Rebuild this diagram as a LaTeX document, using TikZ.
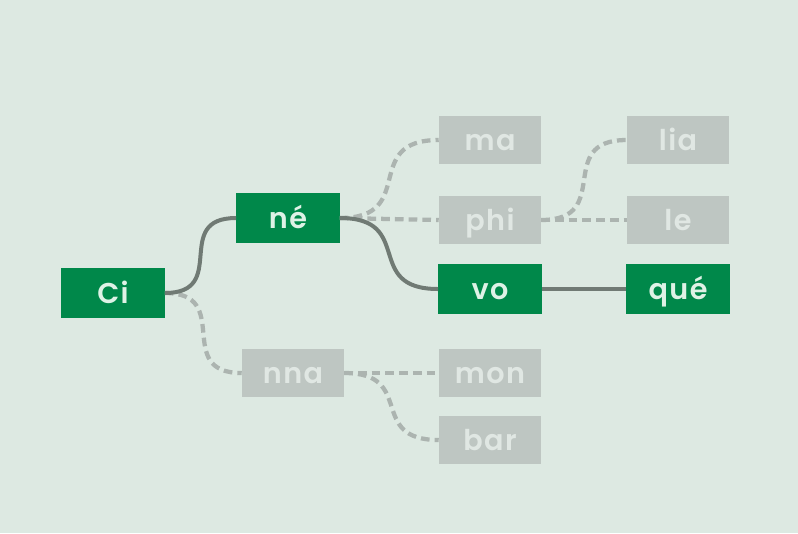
\documentclass[tikz,border=0pt]{standalone}
\usepackage{fontspec}
\setmainfont{Poppins}
\newfontfamily\boxfont{Poppins SemiBold}[LetterSpace=5]
\definecolor{paper}{RGB}{221,233,226}
\definecolor{leafgreen}{RGB}{0,136,74}
\definecolor{mint}{RGB}{222,242,230}
\definecolor{boxgrey}{RGB}{190,198,194}
\definecolor{fadetext}{RGB}{224,231,227}
\definecolor{wire}{RGB}{112,122,116}
\definecolor{dashgrey}{RGB}{172,180,176}

\begin{document}
\begin{tikzpicture}[x=0.75pt,y=-0.75pt,
    hot/.style={fill=leafgreen,text=mint,minimum width=77.5pt,minimum height=37.5pt,
      inner sep=0pt,text height=15pt,text depth=0pt,font=\fontsize{21.5}{20}\boxfont},
    cold/.style={fill=boxgrey,text=fadetext,minimum width=76.5pt,minimum height=36pt,
      inner sep=0pt,text height=15pt,text depth=0pt,font=\fontsize{21.5}{20}\boxfont},
    live/.style={draw=wire,line width=3pt},
    dead/.style={draw=dashgrey,line width=3.2pt,dash pattern=on 6.5pt off 3.8pt},
    swoop/.style={out=0,in=180,looseness=1.6}]
    \fill [paper] (0,0) rectangle (798,533);
    \useasboundingbox (0,0) rectangle (798,533);
    % dashed branches first, boxes on top
    \path coordinate (c1) at (113,293);
    \path coordinate (c2) at (288,218);
    \path coordinate (c3) at (293,373);
    \node [hot] (ci) at (c1) {Ci};
    \node [hot] (ne) at (c2) {né};
    \node [cold] (nna) at (c3) {nna};
    \node [cold] (ma) at (490,140) {ma};
    \node [cold] (phi) at (490,220) {phi};
    \node [hot] (vo) at (490,289) {vo};
    \node [cold] (mon) at (490,373) {mon};
    \node [cold] (bar) at (490,440) {bar};
    \node [cold] (lia) at (678,140) {lia};
    \node [cold] (le) at (678,220) {le};
    \node [hot] (que) at (678,289) {qué};
    \draw [dead] (ci.east) to[swoop] (nna.west);
    \draw [dead] (ne.east) to[swoop] (ma.west);
    \draw [dead] (ne.east) -- (phi.west);
    \draw [dead] (phi.east) to[swoop] (lia.west);
    \draw [dead] (phi.east) -- (le.west);
    \draw [dead] (nna.east) -- (mon.west);
    \draw [dead] (nna.east) to[swoop] (bar.west);
    \draw [live] (ci.east) to[swoop] (ne.west);
    \draw [live] (ne.east) to[swoop] (vo.west);
    \draw [live] (vo.east) -- (que.west);
\end{tikzpicture}
\end{document}
